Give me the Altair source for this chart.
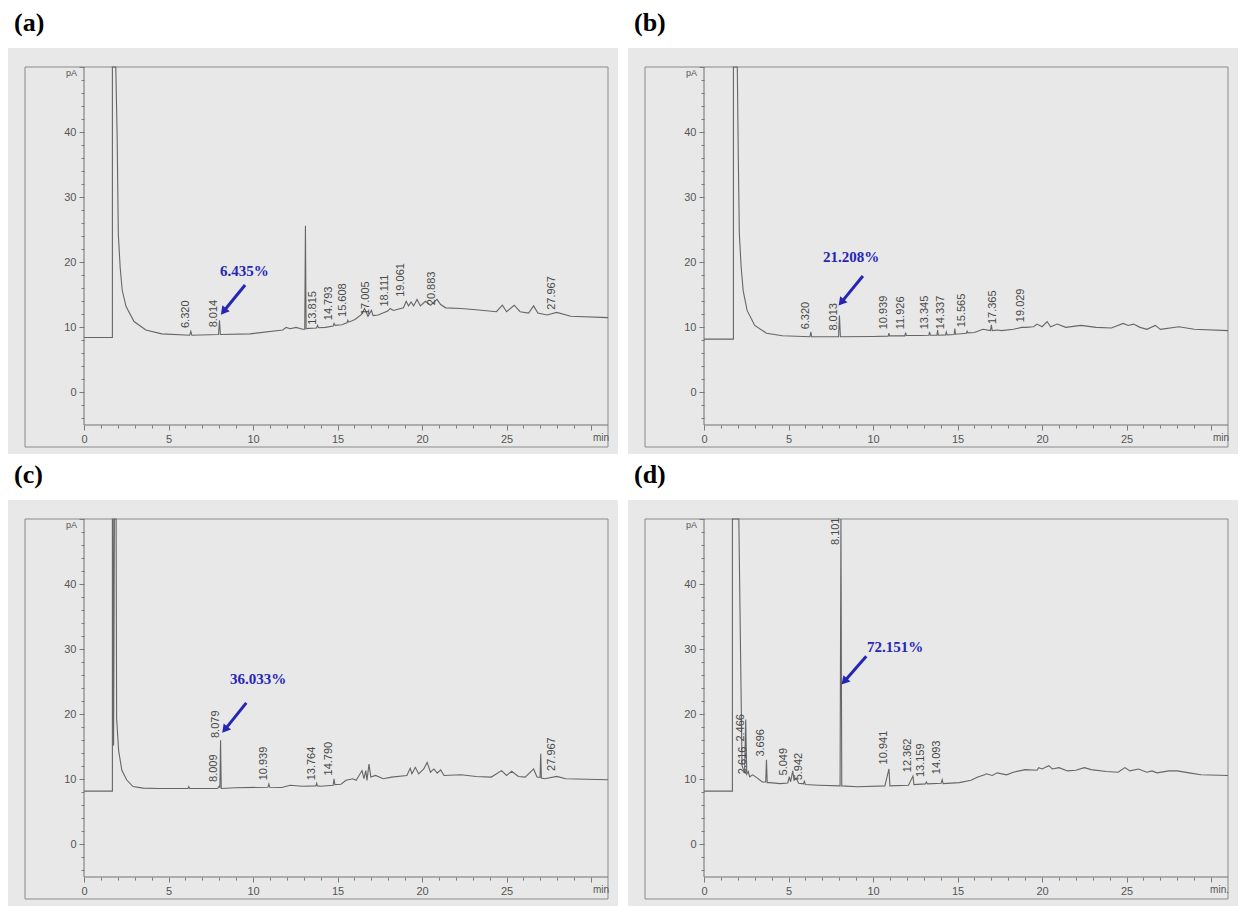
import math
import altair as alt
import pandas as pd

# ---------------- data ----------------
# (retention time [min], signal [pA]) ; off-scale solvent/major peaks recorded at 50
trace_a = [(0, 8.45), (1.68, 8.45), (1.68, 50), (1.88, 50), (1.96, 39.5), (2.03, 24.3), (2.14, 19.2),
           (2.26, 15.7), (2.49, 13.2), (2.96, 10.9), (3.66, 9.6), (4.6, 9.0), (6.25, 8.8), (6.32, 9.4),
           (6.38, 8.8), (7.96, 8.9), (8.014, 11.1), (8.07, 8.9), (9.83, 9.0), (11.76, 9.6), (11.96, 10.0),
           (12.2, 9.8), (12.54, 10.0), (12.93, 9.7), (13.06, 9.7), (13.1, 25.6), (13.14, 9.8), (13.31, 9.85),
           (13.76, 9.9), (13.815, 10.3), (13.87, 9.95), (14.28, 10.0), (14.74, 10.2), (14.793, 10.6),
           (14.85, 10.3), (15.25, 10.4), (15.56, 10.7), (15.608, 11.1), (15.66, 10.8), (16.03, 11.2),
           (16.42, 12.0), (16.6, 12.9), (16.8, 11.7), (17.005, 12.6), (17.1, 11.8), (17.4, 11.9),
           (17.97, 12.5), (18.111, 12.9), (18.3, 12.6), (18.9, 13.0), (19.061, 14.0), (19.2, 13.3),
           (19.35, 13.9), (19.5, 13.3), (19.7, 14.3), (19.9, 13.3), (20.2, 14.0), (20.5, 13.4),
           (20.883, 14.3), (21.1, 13.5), (21.4, 13.0), (22.3, 12.9), (23.2, 12.7), (24.4, 12.4),
           (24.75, 13.4), (25.0, 12.4), (25.45, 13.4), (25.8, 12.4), (26.3, 12.2), (26.6, 13.3),
           (26.85, 12.2), (27.4, 11.9), (27.967, 12.3), (28.8, 11.7), (31, 11.5)]

trace_b = [(0, 8.2), (1.74, 8.2), (1.74, 50), (1.97, 50), (2.03, 36), (2.09, 24.4), (2.2, 19.2),
           (2.32, 15.6), (2.55, 12.6), (3.0, 10.3), (3.7, 9.1), (4.64, 8.7), (6.27, 8.55), (6.32, 9.3),
           (6.37, 8.55), (7.96, 8.55), (8.013, 11.8), (8.07, 8.55), (10.0, 8.6), (10.9, 8.65),
           (10.939, 9.1), (10.98, 8.7), (11.88, 8.7), (11.926, 9.2), (11.97, 8.75), (12.8, 8.75),
           (13.3, 8.8), (13.345, 9.3), (13.39, 8.8), (13.78, 8.8), (13.82, 9.6), (13.86, 8.8),
           (14.29, 8.85), (14.337, 9.3), (14.38, 8.85), (14.8, 8.9), (14.84, 9.8), (14.88, 8.95),
           (15.52, 9.1), (15.565, 9.4), (15.61, 9.15), (16.0, 9.2), (16.5, 9.7), (16.95, 9.5),
           (17.0, 10.4), (17.05, 9.5), (17.365, 9.6), (17.6, 9.5), (18.3, 9.7), (18.8, 10.0),
           (19.029, 10.0), (19.5, 10.1), (19.7, 10.5), (20.0, 10.1), (20.3, 10.9), (20.5, 10.1),
           (20.9, 10.5), (21.4, 10.0), (22.3, 10.3), (23.2, 10.0), (24.1, 9.9), (24.8, 10.6),
           (25.1, 10.3), (25.4, 10.5), (25.8, 10.0), (26.2, 9.7), (26.7, 10.3), (27.0, 9.7),
           (28.1, 10.1), (29.0, 9.7), (31, 9.5)]

trace_c = [(0, 8.2), (1.68, 8.2), (1.68, 50), (1.72, 50), (1.75, 15.2), (1.8, 50), (1.9, 50),
           (1.93, 19.4), (2.05, 14.4), (2.24, 11.4), (2.53, 9.9), (2.9, 8.9), (3.5, 8.65), (4.4, 8.6),
           (6.15, 8.6), (6.2, 8.9), (6.25, 8.6), (7.9, 8.6), (8.009, 9.0), (8.04, 8.7), (8.079, 16.0),
           (8.12, 8.6), (8.97, 8.7), (10.88, 8.8), (10.939, 9.3), (10.99, 8.8), (11.7, 8.75),
           (12.2, 9.1), (12.9, 8.95), (13.72, 9.0), (13.764, 9.4), (13.81, 9.0), (14.0, 8.95),
           (14.74, 9.1), (14.79, 10.1), (14.84, 9.2), (15.2, 9.25), (15.5, 9.85), (15.9, 10.1),
           (16.1, 9.85), (16.45, 11.35), (16.56, 10.1), (16.67, 11.35), (16.74, 9.85), (16.86, 12.35),
           (16.97, 10.35), (17.25, 10.6), (17.7, 10.1), (18.2, 10.35), (19.1, 10.6), (19.3, 11.7),
           (19.4, 10.85), (19.6, 11.85), (19.8, 10.85), (20.1, 11.6), (20.3, 12.6), (20.5, 11.1),
           (20.7, 11.6), (20.9, 10.95), (21.1, 11.45), (21.3, 10.6), (22.3, 10.7), (23.2, 10.45),
           (24.1, 10.35), (24.7, 11.35), (25.0, 10.6), (25.3, 11.25), (25.7, 10.45), (26.1, 10.35),
           (26.5, 11.35), (26.6, 11.6), (26.8, 10.35), (26.98, 10.3), (27.02, 13.95), (27.06, 10.2),
           (27.25, 10.1), (27.967, 10.45), (28.5, 10.1), (31, 9.95)]

trace_d = [(0, 8.2), (1.68, 8.2), (1.68, 50), (2.06, 50), (2.25, 12.1), (2.4, 11.0), (2.466, 19.2),
           (2.53, 10.8), (2.616, 11.2), (2.7, 10.4), (2.88, 10.7), (3.1, 10.3), (3.45, 9.6),
           (3.65, 9.6), (3.696, 13.0), (3.74, 9.5), (3.9, 9.5), (4.5, 9.35), (4.95, 9.45),
           (5.049, 10.4), (5.12, 9.6), (5.25, 11.3), (5.33, 9.85), (5.45, 10.2), (5.6, 9.4),
           (5.89, 9.3), (5.942, 9.8), (5.99, 9.2), (6.8, 9.1), (8.05, 9.0), (8.101, 50), (8.15, 9.0),
           (9.1, 8.87), (10.7, 9.0), (10.941, 11.6), (11.0, 9.0), (12.1, 9.1), (12.362, 10.5),
           (12.42, 9.2), (13.1, 9.3), (13.159, 9.6), (13.22, 9.3), (14.03, 9.4), (14.093, 9.95),
           (14.15, 9.35), (15.1, 9.5), (15.8, 9.85), (16.2, 10.35), (16.6, 10.7), (16.7, 10.85),
           (17.05, 10.6), (17.35, 11.0), (17.9, 10.7), (18.3, 11.1), (19.0, 11.5), (19.7, 11.4),
           (19.8, 11.8), (20.0, 11.6), (20.4, 12.1), (20.6, 11.6), (21.0, 11.8), (21.5, 11.3),
           (22.0, 11.4), (22.5, 11.8), (22.9, 11.5), (23.8, 11.2), (24.5, 11.1), (24.9, 11.8),
           (25.2, 11.3), (25.7, 11.6), (26.2, 11.1), (26.5, 11.3), (26.8, 11.0), (27.5, 11.3),
           (28.0, 11.3), (28.7, 11.0), (29.4, 10.7), (31, 10.6)]

# peak retention-time labels and the signal level where each printed label starts
rt_a = ["6.320", "8.014", "13.815", "14.793", "15.608", "17.005", "18.111", "19.061", "20.883", "27.967"]
rt_a_y = [9.9, 10.0, 10.4, 11.1, 11.6, 11.9, 13.2, 14.7, 13.4, 12.7]
rt_b = ["6.320", "8.013", "10.939", "11.926", "13.345", "14.337", "15.565", "17.365", "19.029"]
rt_b_y = [9.7, 9.5, 9.7, 9.7, 9.7, 9.7, 10.0, 10.5, 10.8]
rt_c = ["8.009", "8.079", "10.939", "13.764", "14.790", "27.967"]
rt_c_y = [9.6, 16.35, 9.85, 9.85, 10.6, 11.3]
rt_d = ["2.466", "2.616", "3.696", "5.049", "5.942", "8.101", "10.941", "12.362", "13.159", "14.093"]
rt_d_y = [15.8, 10.8, 13.5, 10.6, 9.85, 46.0, 12.3, 11.1, 10.35, 10.8]

# highlighted peak: percentage text (text, t, y) and arrow (t1, y1, t2, y2)
pct_a, arrow_a = ("6.435%", 9.49, 18.7), (9.53, 16.5, 8.3, 12.6)
pct_b, arrow_b = ("21.208%", 8.7, 20.8), (9.4, 17.9, 8.17, 14.0)
pct_c, arrow_c = ("36.033%", 10.3, 25.35), (9.6, 21.75, 8.38, 17.8)
pct_d, arrow_d = ("72.151%", 11.3, 30.3), (9.6, 28.9, 8.35, 25.2)

x_ticks = list(range(0, 31))
y_ticks = list(range(-4, 51, 2))
unit_x = ["min", "min", "min", "min."]

# ---------------- geometry / style ----------------
W, H = 610, 406
LEFT, RIGHT, TOP, BOTTOM = 76, 10, 19, 29
T_END, Y_LO, Y_HI = 31, -5, 50
sx = (W - LEFT - RIGHT) / T_END
sy = (H - TOP - BOTTOM) / (Y_HI - Y_LO)
xs = alt.Scale(domain=[-LEFT / sx, T_END + RIGHT / sx], nice=False, zero=False)
ys = alt.Scale(domain=[Y_LO - BOTTOM / sy, Y_HI + TOP / sy], nice=False, zero=False)
FRAME_L = -(LEFT - 17) / sx
FRAME_B = Y_LO - 22 / sy

GREY = "#666666"
BLUE = "#2626b5"
SANS = "Liberation Sans"
SERIF = "Liberation Serif"

x_axis = alt.Axis(values=x_ticks, offset=-BOTTOM, domain=False, grid=False, title=None, zindex=2,
                  labelExpr="datum.value % 5 === 0 && datum.value <= 25 ? datum.label : ''",
                  labelOverlap=False, labelFlush=False, labelPadding=3,
                  tickSize={"condition": {"test": "datum.value % 5 === 0", "value": 5}, "value": 3},
                  tickColor="#7a7a7a", labelColor="#555555", labelFont=SANS, labelFontSize=11)
y_axis = alt.Axis(values=y_ticks, offset=-LEFT, domain=False, grid=False, title=None, zindex=2,
                  labelExpr="datum.value % 10 === 0 && datum.value >= 0 && datum.value < 50 ? datum.label : ''",
                  labelOverlap=False, labelFlush=False, labelPadding=3,
                  tickSize={"condition": {"test": "datum.value % 10 === 0", "value": 5}, "value": 3},
                  tickColor="#7a7a7a", labelColor="#555555", labelFont=SANS, labelFontSize=11)


def X(f):
    return alt.X(f, type="quantitative", scale=xs, axis=x_axis)


def Y(f):
    return alt.Y(f, type="quantitative", scale=ys, axis=y_axis)


def panel(letter, trace, rts, rts_y, pct, arrow, unit):
    df = pd.DataFrame(trace, columns=["t", "y"])
    df["i"] = range(len(df))

    frame = alt.Chart(pd.DataFrame({"t": [FRAME_L], "t2": [T_END], "y": [FRAME_B], "y2": [Y_HI]})).mark_rect(
        fillOpacity=0, stroke="#8a8a8a", strokeWidth=1).encode(
        x=X("t"), x2="t2:Q", y=Y("y"), y2="y2:Q")

    axes = alt.Chart(pd.DataFrame({"t": [0, 0], "t2": [0, T_END], "y": [Y_LO, Y_LO], "y2": [Y_HI, Y_LO]})).mark_rule(
        color="#707070", strokeWidth=1).encode(x=X("t"), x2="t2:Q", y=Y("y"), y2="y2:Q")

    line = alt.Chart(df).mark_line(color=GREY, strokeWidth=1.1).encode(
        x=X("t"), y=Y("y"), order="i:Q")

    lab = pd.DataFrame({"t": [float(r) for r in rts], "y": rts_y, "label": rts})
    labels = alt.Chart(lab).mark_text(angle=270, align="left", baseline="bottom", font=SANS,
                                      fontSize=11, color="#4a4a4a").encode(
        x=X("t"), y=Y("y"), text="label:N")

    units = alt.Chart(pd.DataFrame({"t": [0, T_END], "y": [Y_HI, Y_LO], "label": ["pA", unit]}))
    pa = units.transform_filter("datum.label == 'pA'").mark_text(
        align="right", baseline="top", dx=-7, dy=2, font=SANS, fontSize=9, color="#555555").encode(
        x=X("t"), y=Y("y"), text="label:N")
    mn = units.transform_filter("datum.label != 'pA'").mark_text(
        align="right", baseline="top", dx=1, dy=8, font=SANS, fontSize=10, color="#555555").encode(
        x=X("t"), y=Y("y"), text="label:N")

    ptxt = alt.Chart(pd.DataFrame({"t": [pct[1]], "y": [pct[2]], "label": [pct[0]]})).mark_text(
        align="center", baseline="middle", font=SERIF, fontWeight="bold", fontSize=15, color=BLUE).encode(
        x=X("t"), y=Y("y"), text="label:N")

    t1, y1, t2, y2 = arrow
    arr = alt.Chart(pd.DataFrame({"t": [t1], "y": [y1], "t2": [t2], "y2": [y2]})).mark_rule(
        color=BLUE, strokeWidth=3).encode(x=X("t"), x2="t2:Q", y=Y("y"), y2="y2:Q")
    ang = math.degrees(math.atan2((t2 - t1) * sx, (y2 - y1) * sy)) % 360
    head = alt.Chart(pd.DataFrame({"t": [t2], "y": [y2]})).mark_point(
        shape="triangle", filled=True, size=90, color=BLUE, opacity=1, angle=ang).encode(
        x=X("t"), y=Y("y"))

    return alt.layer(frame, axes, line, labels, pa, mn, ptxt, arr, head).properties(
        width=W, height=H,
        title=alt.TitleParams(text=f"({letter})", anchor="start", font=SERIF, fontSize=26,
                              fontWeight="bold", color="#000000", offset=12, dx=6))


pa_ = panel("a", trace_a, rt_a, rt_a_y, pct_a, arrow_a, unit_x[0])
pb_ = panel("b", trace_b, rt_b, rt_b_y, pct_b, arrow_b, unit_x[1])
pc_ = panel("c", trace_c, rt_c, rt_c_y, pct_c, arrow_c, unit_x[2])
pd_ = panel("d", trace_d, rt_d, rt_d_y, pct_d, arrow_d, unit_x[3])

chart = alt.vconcat(
    alt.hconcat(pa_, pb_, spacing=10),
    alt.hconcat(pc_, pd_, spacing=10),
    spacing=8,
).properties(padding={"top": 2, "left": 0, "right": 0, "bottom": 0}, background="white").configure_view(
    fill="#e8e8e8", strokeWidth=0)

chart.save("out.html", embed_options={"renderer": "svg", "actions": False})
